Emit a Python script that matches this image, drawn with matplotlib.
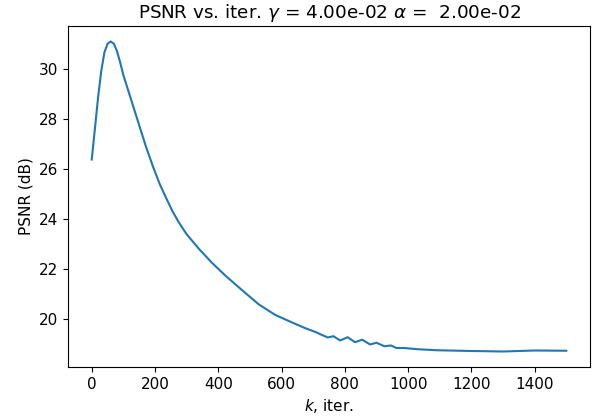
import numpy as np
import matplotlib
matplotlib.use("Agg")
import matplotlib.pyplot as plt

# PSNR values
iters = [0, 5, 10, 20, 30, 40, 50, 60, 70, 80, 90, 100, 120, 145, 170, 195,
         215, 235, 256, 275, 300, 340, 380, 424, 475, 528, 580, 633, 675, 707,
         733, 746, 764, 785, 809, 832, 855, 880, 900, 925, 946, 963, 987, 1031,
         1092, 1200, 1300, 1400, 1500]
psnr = [26.38, 27.0, 27.6, 28.85, 29.9, 30.65, 31.0, 31.09, 31.0, 30.7,
        30.25, 29.75, 28.95, 27.95, 26.95, 26.05, 25.4, 24.85, 24.3, 23.88,
        23.4, 22.8, 22.26, 21.73, 21.17, 20.6, 20.18, 19.88, 19.65, 19.5,
        19.35, 19.28, 19.33, 19.16, 19.29, 19.09, 19.19, 19.0, 19.07, 18.93,
        18.96, 18.86, 18.86, 18.81, 18.77, 18.74, 18.72, 18.76, 18.75]

gamma = 4.00e-02
alpha = 2.00e-02

plt.rcParams['font.size'] = 11

fig = plt.figure(figsize=(5.95, 4.18), dpi=100)
ax = fig.add_subplot(111)
fig.subplots_adjust(left=68/595, right=590/595, top=1-26/418, bottom=1-367/418)

ax.plot(iters, psnr)
ax.set_xticks([0, 200, 400, 600, 800, 1000, 1200, 1400])
ax.set_title(r'PSNR vs. iter. $\gamma$ = %.2e $\alpha$ = % .2e' % (gamma, alpha),
             fontsize=13.2)
ax.set_xlabel(r'$k$, iter.')
ax.set_ylabel('PSNR (dB)')

plt.savefig("out.png", dpi=100)
